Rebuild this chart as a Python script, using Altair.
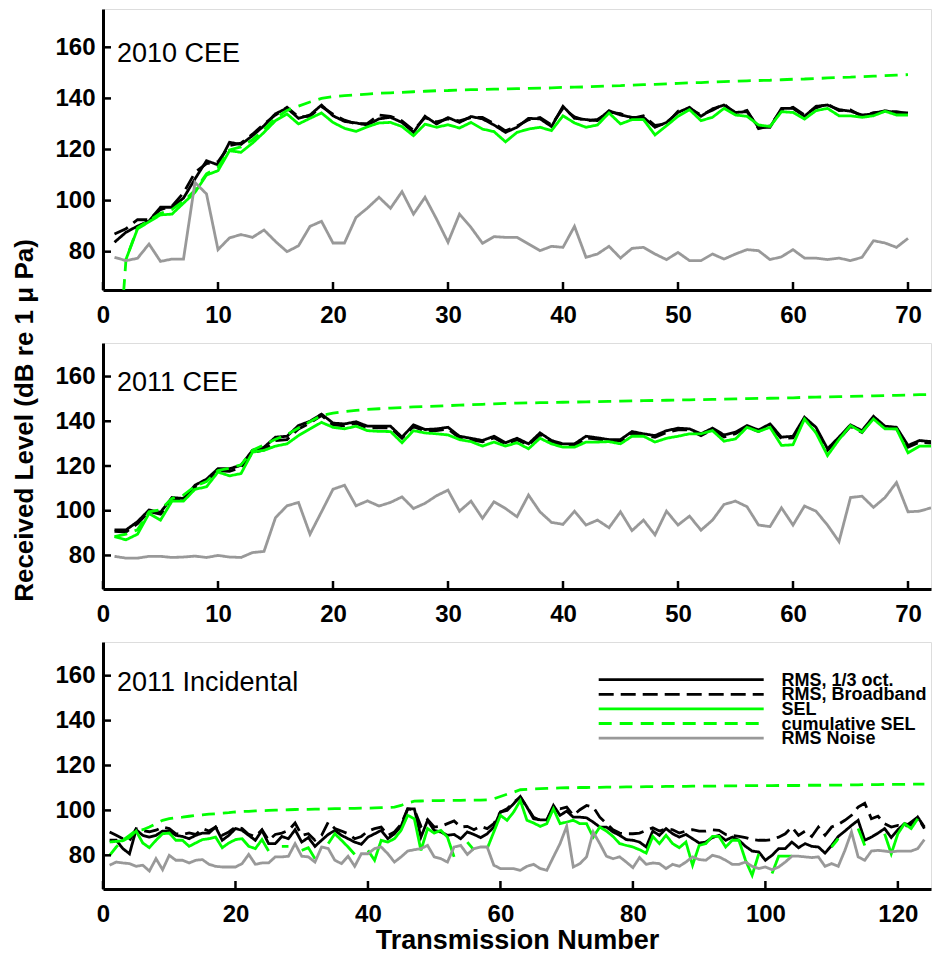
import altair as alt
import pandas as pd

FONT = "Liberation Sans"

SERIES = ["RMS, 1/3 oct.", "RMS, Broadband", "SEL", "cumulative SEL", "RMS Noise"]
COLORS = ["#000000", "#000000", "#00ff00", "#00ff00", "#999999"]
DASHES = [[1, 0], [15, 7], [1, 0], [13, 8], [1, 0]]
DRAW_ORDER = ["RMS, 1/3 oct.", "RMS, Broadband", "SEL", "cumulative SEL", "RMS Noise"]

PANEL_TITLES = ["2010 CEE", "2011 CEE", "2011 Incidental"]
X_TICKS_CEE = [0, 10, 20, 30, 40, 50, 60, 70]
X_TICKS_INC = [0, 20, 40, 60, 80, 100, 120]
Y_TICKS = [80, 100, 120, 140, 160]
Y_TITLE = "Received Level (dB re 1 \u03bc Pa)"
X_TITLE = "Transmission Number"

# ---------------- 2010 CEE ----------------
rms_2010 = [83.7, 87.6, 90.0, 92.0, 97.4, 97.4, 101.0, 108.5, 115.6, 114.0,
            122.8, 122.0, 125.4, 129.3, 134.0, 136.2, 132.2, 133.5, 137.4, 133.2,
            131.0, 130.4, 129.6, 132.0, 132.6, 130.6, 126.7, 133.0, 130.0, 132.5,
            130.6, 132.9, 132.0, 129.6, 126.7, 128.7, 132.2, 132.0, 129.0, 136.9,
            132.2, 131.7, 131.3, 135.2, 133.5, 132.6, 132.6, 128.7, 130.6, 134.5,
            136.5, 133.0, 135.9, 137.4, 134.5, 134.8, 128.7, 128.7, 136.1, 136.1,
            133.0, 136.9, 137.4, 135.6, 135.0, 133.5, 133.9, 135.2, 134.3, 134.3]
bb_2010 = [86.9, 89.0, 92.5, 92.5, 96.5, 97.8, 103.0, 111.0, 114.5, 115.2,
           121.5, 122.5, 126.0, 130.0, 133.5, 136.5, 132.8, 133.0, 136.8, 133.8,
           131.5, 130.0, 130.2, 133.5, 133.0, 131.2, 127.5, 132.5, 130.8, 132.0,
           131.2, 132.5, 132.6, 130.2, 127.3, 129.2, 131.6, 132.5, 129.6, 136.2,
           132.8, 131.2, 131.8, 134.6, 134.0, 132.2, 133.2, 129.4, 130.0, 135.0,
           136.0, 133.6, 135.4, 137.8, 134.0, 135.3, 128.2, 129.3, 135.6, 136.5,
           133.5, 136.3, 137.8, 135.2, 135.5, 133.0, 134.4, 134.8, 134.8, 134.0]
sel_2010 = [None, 77.0, 88.9, 91.7, 94.4, 94.7, 99.0, 103.2, 110.0, 111.7,
            119.5, 118.9, 122.5, 126.7, 131.3, 133.9, 130.0, 132.2, 134.3, 130.6,
            128.3, 127.1, 128.9, 130.4, 130.6, 129.0, 125.4, 129.9, 128.7, 129.7,
            128.4, 130.6, 128.0, 127.0, 123.0, 126.7, 128.0, 128.7, 127.4, 133.2,
            130.4, 128.7, 129.6, 134.3, 130.0, 131.7, 131.7, 125.7, 129.3, 133.0,
            135.6, 131.3, 132.6, 136.1, 133.5, 133.0, 129.6, 129.0, 134.8, 134.5,
            131.9, 135.2, 136.1, 133.2, 133.2, 132.6, 133.2, 135.0, 133.5, 133.5]
cum_2010 = [15.0, 77.0, 89.3, 92.2, 95.0, 96.5, 99.8, 104.0, 110.5, 113.0,
            119.8, 121.0, 123.8, 127.8, 132.3, 135.3, 137.0, 138.6, 140.0, 140.7,
            141.1, 141.4, 141.7, 142.0, 142.2, 142.4, 142.6, 142.8, 143.0, 143.1,
            143.3, 143.4, 143.5, 143.6, 143.7, 143.8, 143.9, 144.0, 144.1, 144.3,
            144.4, 144.5, 144.7, 144.9, 145.0, 145.2, 145.4, 145.5, 145.7, 145.9,
            146.1, 146.2, 146.4, 146.6, 146.7, 146.9, 147.0, 147.1, 147.3, 147.5,
            147.6, 147.8, 148.0, 148.2, 148.3, 148.5, 148.7, 148.9, 149.1, 149.3]
noise_2010 = [77.8, 76.5, 77.4, 83.0, 76.2, 77.1, 77.1, 107.1, 102.6, 80.8,
              85.4, 86.7, 85.6, 88.5, 84.0, 80.0, 82.3, 89.9, 91.9, 83.4,
              83.4, 93.4, 97.1, 101.3, 97.0, 103.5, 94.7, 101.3, 92.8, 83.7,
              94.7, 89.5, 83.3, 85.9, 85.6, 85.6, 83.0, 80.4, 82.1, 81.7,
              89.9, 77.8, 79.1, 82.1, 77.5, 81.3, 81.7, 79.1, 76.9, 79.7,
              76.5, 76.5, 79.1, 77.1, 79.1, 80.8, 80.4, 76.9, 78.0, 80.8,
              77.5, 77.5, 76.9, 77.5, 76.5, 77.8, 84.3, 83.4, 81.7, 85.2]

# ---------------- 2011 CEE ----------------
rms_2011 = [91.4, 91.4, 95.1, 100.3, 99.3, 105.9, 105.5, 111.4, 114.1, 118.8,
            118.8, 120.3, 127.0, 128.4, 132.9, 133.3, 138.1, 140.0, 143.2, 139.2,
            138.8, 139.8, 137.8, 137.8, 137.8, 132.9, 138.4, 136.3, 136.6, 137.3,
            133.3, 132.4, 131.4, 133.3, 130.4, 132.4, 129.9, 134.8, 131.4, 129.9,
            129.9, 133.3, 132.6, 131.8, 131.8, 135.4, 134.4, 133.6, 135.8, 136.9,
            136.6, 134.4, 136.9, 133.9, 135.1, 138.1, 136.1, 138.8, 132.9, 133.3,
            141.8, 137.3, 127.7, 132.9, 138.4, 135.8, 142.2, 137.8, 137.3, 129.2,
            131.4, 130.9]
bb_2011 = [90.8, 90.5, 94.2, 99.6, 98.4, 104.8, 105.0, 110.6, 113.5, 117.9,
           117.6, 119.4, 126.0, 127.2, 131.4, 131.8, 136.6, 139.2, 142.6, 138.4,
           138.0, 139.1, 136.9, 137.2, 137.0, 132.4, 137.6, 135.6, 135.8, 136.5,
           132.6, 131.7, 130.8, 132.6, 129.8, 131.7, 129.4, 134.0, 130.8, 129.2,
           129.0, 132.6, 132.0, 131.2, 131.2, 134.6, 133.8, 132.8, 135.0, 136.2,
           136.1, 133.6, 136.2, 133.0, 134.4, 137.5, 135.4, 138.2, 132.2, 132.6,
           141.2, 136.6, 127.0, 132.0, 137.7, 135.0, 141.6, 137.0, 136.6, 128.4,
           130.6, 130.2]
sel_2011 = [88.4, 87.0, 89.5, 98.8, 95.8, 104.3, 104.3, 109.6, 110.7, 117.3,
            115.6, 116.6, 126.2, 127.0, 128.9, 129.9, 133.6, 136.6, 139.5, 137.3,
            136.6, 137.8, 135.8, 135.5, 135.4, 130.4, 135.8, 134.8, 134.4, 133.9,
            131.8, 130.9, 128.9, 130.7, 128.9, 130.4, 127.7, 132.4, 129.9, 128.4,
            128.4, 130.7, 130.7, 130.9, 129.9, 133.3, 133.3, 130.7, 132.4, 133.3,
            134.4, 134.4, 135.8, 131.1, 132.1, 137.3, 135.4, 137.3, 129.2, 129.5,
            141.0, 134.8, 124.7, 131.8, 138.1, 135.1, 141.0, 136.6, 136.6, 125.9,
            128.9, 128.9]
cum_2011 = [88.4, 89.5, 91.5, 99.5, 100.5, 105.5, 107.0, 111.0, 113.0, 118.0,
            119.0, 120.5, 127.0, 129.5, 132.0, 134.0, 137.0, 139.8, 142.6, 143.6,
            144.3, 144.9, 145.3, 145.6, 145.9, 146.1, 146.4, 146.6, 146.8, 147.0,
            147.2, 147.4, 147.6, 147.8, 148.0, 148.1, 148.2, 148.3, 148.4, 148.5,
            148.6, 148.7, 148.8, 148.9, 149.0, 149.1, 149.2, 149.3, 149.4, 149.5,
            149.6, 149.7, 149.8, 149.9, 150.0, 150.1, 150.2, 150.3, 150.4, 150.5,
            150.7, 150.8, 150.9, 151.0, 151.1, 151.2, 151.4, 151.5, 151.6, 151.7,
            151.9, 152.0]
noise_2011 = [79.6, 78.8, 78.8, 79.6, 79.6, 79.1, 79.3, 79.7, 79.1, 80.0,
              79.3, 79.1, 81.3, 81.8, 96.9, 102.2, 103.7, 89.5, 99.5, 109.6,
              111.4, 102.2, 104.4, 102.1, 103.7, 106.2, 101.0, 103.3, 106.7, 109.2,
              99.8, 104.3, 96.6, 104.0, 101.0, 97.3, 107.0, 99.5, 94.8, 93.9,
              99.8, 93.6, 95.8, 92.4, 99.5, 91.1, 95.8, 89.2, 99.8, 93.6,
              97.6, 91.3, 95.8, 102.8, 104.3, 101.8, 93.6, 92.9, 101.3, 93.6,
              102.1, 99.8, 93.6, 86.2, 105.9, 106.5, 101.5, 105.9, 112.6, 99.5,
              99.8, 101.3]

# ---------------- 2011 Incidental ----------------
rms_inc = [86.7, 86.7, 83.0, 80.7, 91.4, 88.9, 88.1, 88.9, 90.8, 90.8,
           88.9, 88.4, 87.4, 88.9, 89.9, 89.9, 92.6, 86.7, 88.9, 91.9,
           91.1, 88.9, 86.7, 91.1, 85.2, 85.2, 88.4, 87.4, 91.4, 85.9,
           87.9, 84.0, 86.7, 89.3, 91.1, 88.9, 87.4, 85.9, 84.9, 88.1,
           89.6, 91.1, 87.4, 89.6, 92.9, 100.7, 100.7, 88.1, 95.6, 91.1,
           90.4, 88.9, 89.3, 87.4, 90.4, 89.3, 87.9, 89.6, 92.6, 99.3,
           100.0, 103.0, 106.2, 101.5, 96.3, 95.8, 95.8, 102.2, 97.8, 99.7,
           97.0, 97.0, 96.7, 94.8, 92.6, 92.6, 90.4, 88.9, 87.0, 86.7,
           85.9, 83.7, 90.8, 88.9, 91.9, 89.6, 88.1, 89.3, 87.4, 85.5,
           85.9, 87.9, 88.9, 86.7, 88.1, 86.7, 84.0, 81.9, 81.5, 77.8,
           80.0, 83.0, 83.0, 85.9, 83.4, 85.2, 84.0, 83.7, 81.0, 84.4,
           88.4, 90.8, 93.3, 95.6, 86.7, 88.1, 89.9, 91.9, 87.9, 91.4,
           94.1, 93.3, 97.0, 92.6]
bb_inc = [90.4, 88.9, 87.4, 86.5, 91.9, 91.0, 90.5, 91.2, 92.6, 91.9,
          89.6, 89.3, 90.0, 89.3, 91.9, 90.8, 92.6, 88.9, 90.4, 92.6,
          91.9, 89.3, 88.4, 91.4, 86.7, 89.3, 89.9, 91.1, 94.4, 88.9,
          89.6, 86.7, 88.9, 94.8, 91.9, 90.8, 89.6, 87.4, 88.4, 90.8,
          91.9, 92.6, 88.9, 90.4, 93.8, 100.7, 100.3, 92.9, 95.9, 92.6,
          92.9, 94.1, 95.3, 92.6, 92.9, 91.4, 92.9, 91.9, 94.1, 99.3,
          100.7, 103.6, 105.9, 101.5, 97.0, 95.6, 95.6, 101.5, 100.7, 101.5,
          97.8, 100.3, 102.2, 101.5, 97.0, 94.1, 91.4, 89.9, 89.6, 89.6,
          89.9, 91.1, 92.3, 90.8, 91.9, 91.4, 89.9, 90.8, 91.4, 90.8,
          90.8, 91.4, 91.1, 89.3, 88.9, 88.4, 87.9, 87.0, 86.7, 86.7,
          87.0, 88.1, 89.6, 92.6, 88.9, 90.8, 88.4, 92.6, 88.9, 92.6,
          93.8, 95.6, 97.8, 101.5, 103.2, 96.3, 97.4, 94.1, 92.6, 93.3,
          92.6, 94.8, 97.0, 91.9]
sel_inc = [85.9, 86.2, 86.5, 88.0, 90.8, 85.5, 83.4, 86.7, 89.6, 89.9,
           86.7, 86.7, 84.0, 85.5, 87.0, 87.4, 88.1, 83.4, 85.5, 87.0,
           87.4, 84.0, 83.0, 87.0, 81.9, None, 84.0, 84.0, None, 82.2,
           83.4, 78.5, None, 85.2, 89.6, 86.7, 83.7, 80.4, None, 82.2,
           77.8, 86.7, 85.9, 87.4, 91.1, 97.8, 96.3, 82.2, 91.9, 89.9,
           91.1, 88.1, 79.3, None, 85.9, 82.3, None, 83.0, 90.4, 97.8,
           95.6, 99.3, 104.4, 95.6, 94.4, 92.9, 94.1, 100.7, 94.1, 94.8,
           95.6, 94.1, 94.1, 88.1, 92.6, 90.8, 88.4, 85.2, 84.4, 83.7,
           82.5, 81.0, 88.4, 85.2, 88.9, 85.2, 83.4, 85.9, 75.6, 84.4,
           85.2, 88.4, 88.4, 83.7, 86.7, 86.7, 77.8, 71.1, 80.7, None,
           71.9, 79.6, 79.6, 79.6, None, None, None, None, None, 83.7,
           87.4, None, None, 91.9, 84.4, None, None, 89.6, 80.7, 89.6,
           94.1, 91.9, 96.3, None]
cum_inc = [80.0, 83.7, 86.7, 88.9, 91.1, 91.4, 92.6, 94.1, 95.6, 96.3,
           96.7, 97.0, 97.4, 97.8, 98.0, 98.3, 98.5, 98.8, 99.0, 99.3,
           99.5, 99.6, 99.8, 99.9, 100.0, 100.1, 100.2, 100.3, 100.4, 100.5,
           100.5, 100.6, 100.6, 100.7, 100.8, 100.8, 100.9, 100.9, 101.0, 101.0,
           101.1, 101.2, 101.3, 101.5, 102.2, 103.4, 104.1, 104.2, 104.3, 104.4,
           104.4, 104.5, 104.5, 104.5, 104.6, 104.6, 104.6, 104.7, 105.2, 106.2,
           107.2, 108.1, 109.2, 109.4, 109.6, 109.7, 109.8, 109.9, 110.0, 110.1,
           110.1, 110.2, 110.2, 110.3, 110.3, 110.4, 110.4, 110.4, 110.5, 110.5,
           110.5, 110.6, 110.6, 110.6, 110.7, 110.7, 110.7, 110.7, 110.8, 110.8,
           110.8, 110.8, 110.9, 110.9, 110.9, 110.9, 111.0, 111.0, 111.0, 111.0,
           111.0, 111.1, 111.1, 111.1, 111.1, 111.2, 111.2, 111.2, 111.2, 111.3,
           111.3, 111.3, 111.4, 111.4, 111.5, 111.5, 111.5, 111.6, 111.6, 111.6,
           111.6, 111.7, 111.7, 111.7]
noise_inc = [75.6, 77.0, 76.6, 76.3, 75.1, 75.6, 73.0, 78.5, 73.6, 80.0,
             77.8, 77.8, 76.6, 77.8, 78.1, 76.0, 75.1, 74.8, 74.8, 74.8,
             76.3, 80.4, 76.0, 76.6, 76.6, 79.3, 79.3, 79.6, 85.2, 79.6,
             79.3, 77.0, 83.7, 83.0, 77.8, 76.3, 79.6, 75.1, 80.7, 80.7,
             83.0, 83.7, 80.7, 77.0, 79.3, 81.9, 82.5, 83.0, 84.4, 79.3,
             78.5, 77.0, 83.7, 84.4, 80.4, 83.0, 83.7, 83.7, 75.6, 74.1,
             74.1, 74.1, 73.3, 75.1, 76.0, 74.1, 73.3, 79.3, 85.2, 92.9,
             74.8, 76.3, 79.3, 90.4, 85.2, 79.6, 78.5, 79.3, 77.0, 74.5,
             79.0, 76.0, 76.6, 76.3, 74.1, 76.0, 75.1, 77.0, 79.3, 78.1,
             77.8, 80.0, 79.3, 77.8, 76.0, 76.0, 77.0, 75.1, 74.1, 74.8,
             73.6, 74.8, 77.0, 79.6, 79.6, 79.3, 79.0, 79.3, 75.1, 76.3,
             75.1, 82.2, 90.4, 79.3, 77.8, 81.9, 82.2, 81.9, 81.5, 81.9,
             81.9, 81.9, 83.0, 87.0]

for arr, ln in [(rms_2010, 70), (bb_2010, 70), (sel_2010, 70), (cum_2010, 70), (noise_2010, 70),
                (rms_2011, 72), (bb_2011, 72), (sel_2011, 72), (cum_2011, 72), (noise_2011, 72),
                (rms_inc, 124), (bb_inc, 124), (sel_inc, 124), (cum_inc, 124), (noise_inc, 124)]:
    assert len(arr) == ln, (len(arr), ln)


def long_df(lists):
    rows = []
    for name, vals in zip(SERIES, lists):
        seg, gap = 0, False
        for i, v in enumerate(vals):
            if v is None:
                gap = True
                continue
            if gap:
                seg += 1
                gap = False
            rows.append({"n": i + 1, "level": v, "series": name, "seg": seg})
    return pd.DataFrame(rows)


color_scale = alt.Scale(domain=SERIES, range=COLORS)
dash_scale = alt.Scale(domain=SERIES, range=DASHES)
LW = 2.8


def panel(df, xmax, xticks, height, title, title_y, show_ytitle, show_legend, show_xtitle):
    xs = alt.Scale(domain=[0, xmax], nice=False, zero=False)
    ys = alt.Scale(domain=[65, 175], nice=False, zero=False)
    xkw = dict(values=xticks, format="d", ticks=False, tickSize=0, labelFontSize=24,
               labelFontWeight="bold", labelFont=FONT, labelColor="black", labelPadding=13,
               labelFlush=False, labelOverlap=False, domainColor="black", domainWidth=3,
               grid=False)
    if show_xtitle:
        xaxis = alt.Axis(title=X_TITLE, titleFontSize=27, titleFontWeight="bold", titleFont=FONT,
                         titleColor="black", titlePadding=1, **xkw)
    else:
        xaxis = alt.Axis(title=None, **xkw)
    ykw = dict(values=Y_TICKS, format="d", ticks=False, tickSize=0, labelFontSize=24,
               labelFontWeight="bold", labelFont=FONT, labelColor="black", labelPadding=8,
               labelFlush=False, labelOverlap=False, domainColor="black", domainWidth=3,
               grid=False, orient="left")
    if show_ytitle:
        yaxis = alt.Axis(title=Y_TITLE, titleFontSize=26, titleFontWeight="bold", titleFont=FONT,
                         titleColor="black", titleX=-66, titleY=77, titleAngle=270,
                         titleBaseline="bottom", titleAlign="center", **ykw)
    else:
        yaxis = alt.Axis(title=None, **ykw)

    layers = []
    for name in DRAW_ORDER:
        layers.append(
            alt.Chart(df).transform_filter(alt.datum.series == name)
            .mark_line(strokeWidth=LW, clip=True)
            .encode(
                x=alt.X("n:Q", scale=xs, axis=xaxis),
                y=alt.Y("level:Q", scale=ys, axis=yaxis),
                color=alt.Color("series:N", scale=color_scale, legend=None),
                strokeDash=alt.StrokeDash("series:N", scale=dash_scale, legend=None),
                detail="seg:N",
                order="n:Q",
            )
        )
    xt = alt.Chart(pd.DataFrame({"t": xticks})).mark_rule(color="black", strokeWidth=2.5).encode(
        x=alt.X("t:Q", scale=xs, axis=xaxis), y=alt.value(height), y2=alt.value(height - 8))
    yt = alt.Chart(pd.DataFrame({"t": Y_TICKS})).mark_rule(color="black", strokeWidth=2.5).encode(
        y=alt.Y("t:Q", scale=ys, axis=yaxis), x=alt.value(0), x2=alt.value(8))
    txt = alt.Chart(pd.DataFrame({"label": [title]})).mark_text(
        align="left", baseline="middle", fontSize=27, font=FONT, color="black").encode(
        text="label:N", x=alt.value(14), y=alt.value(title_y))
    main = alt.layer(*layers, xt, yt, txt)

    if not show_legend:
        return main.properties(width=828, height=height)

    # legend drawn inside the panel (top right), rows on a point scale
    leg_df = pd.DataFrame({"series": SERIES})
    row_scale = alt.Scale(type="point", domain=SERIES, range=[37.7, 96.1], padding=0)
    leg_lines = alt.Chart(leg_df).mark_rule(strokeWidth=LW).encode(
        x=alt.value(495.7), x2=alt.value(660.7),
        y=alt.Y("series:N", scale=row_scale, axis=None),
        color=alt.Color("series:N", scale=color_scale, legend=None),
        strokeDash=alt.StrokeDash("series:N", scale=dash_scale, legend=None),
    )
    leg_text = alt.Chart(leg_df).mark_text(
        align="left", baseline="middle", fontSize=18, fontWeight="bold", font=FONT,
        color="black", dy=1).encode(
        x=alt.value(678.4),
        y=alt.Y("series:N", scale=row_scale, axis=None),
        text="series:N",
    )
    return alt.layer(main, alt.layer(leg_lines, leg_text)).resolve_scale(
        y="independent").properties(width=828, height=height)


p1 = panel(long_df([rms_2010, bb_2010, sel_2010, cum_2010, noise_2010]), 72, X_TICKS_CEE, 281,
           PANEL_TITLES[0], 44.7, False, False, False)
p2 = panel(long_df([rms_2011, bb_2011, sel_2011, cum_2011, noise_2011]), 72, X_TICKS_CEE, 246,
           PANEL_TITLES[1], 39.5, True, False, False)
p3 = panel(long_df([rms_inc, bb_inc, sel_inc, cum_inc, noise_inc]), 125, X_TICKS_INC, 247,
           PANEL_TITLES[2], 40.5, False, True, True)

chart = alt.vconcat(p1, p2, p3, spacing=53, bounds="flush").resolve_scale(
    x="independent", y="independent", color="independent", strokeDash="independent"
).properties(
    padding={"left": 10, "top": 8, "right": 0, "bottom": 0}
).configure_view(strokeWidth=0).configure(background="white")

chart.save("out.html", embed_options={"renderer": "svg", "actions": False})
